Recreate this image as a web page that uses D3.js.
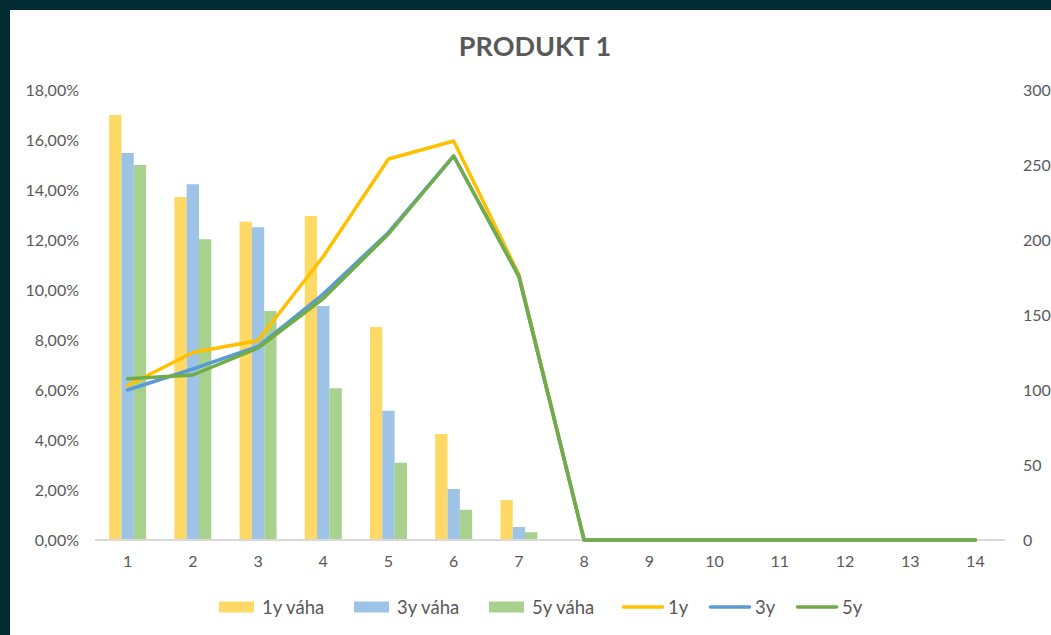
<!DOCTYPE html>
<html>
<head>
<meta charset="utf-8">
<script src="https://cdn.jsdelivr.net/npm/d3@7"></script>
<style>
  body { margin: 0; background: #022b33; }
  svg { display: block; }
  text { font-family: Lato, "Open Sans", sans-serif; fill: #595959; }
</style>
</head>
<body>
<svg id="chart" width="1051" height="635"></svg>
<script>
// categories
var categories = [1, 2, 3, 4, 5, 6, 7, 8, 9, 10, 11, 12, 13, 14]

// bar series (left axis, share)
var vaha1y = [0.170, 0.1372, 0.1273, 0.1296, 0.0852, 0.0424, 0.0160, 0, 0, 0, 0, 0, 0, 0]
var vaha3y = [0.1548, 0.1423, 0.1251, 0.0936, 0.0517, 0.0204, 0.0052, 0, 0, 0, 0, 0, 0, 0]
var vaha5y = [0.1500, 0.1203, 0.0916, 0.0607, 0.0309, 0.0121, 0.0031, 0, 0, 0, 0, 0, 0, 0]

// line series (right axis)
var line1y = [103, 125, 133, 189, 254, 266, 177, 0, 0, 0, 0, 0, 0, 0]
var line3y = [100, 114, 129, 164, 205, 256, 176, 0, 0, 0, 0, 0, 0, 0]
var line5y = [107.5, 110, 128, 161, 204, 256, 175.5, 0, 0, 0, 0, 0, 0, 0]

var leftTicks = [0, 0.02, 0.04, 0.06, 0.08, 0.10, 0.12, 0.14, 0.16, 0.18]
var rightTicks = [0, 50, 100, 150, 200, 250, 300]

var barSeries = [
	{ name: "1y váha", values: vaha1y, color: "#FFD966" },
	{ name: "3y váha", values: vaha3y, color: "#9DC3E6" },
	{ name: "5y váha", values: vaha5y, color: "#A9D18E" }
]
var lineSeries = [
	{ name: "1y", values: line1y, color: "#FFC000" },
	{ name: "3y", values: line3y, color: "#5B9BD5" },
	{ name: "5y", values: line5y, color: "#70AD47" }
]

var svg = d3.select("#chart")

// white chart area inside the dark frame
svg.append("rect")
	.attr("x", 10).attr("y", 10)
	.attr("width", 1041).attr("height", 625)
	.attr("fill", "#ffffff")

var plot = { left: 95, right: 1008, top: 90, bottom: 540 }

var x = d3.scaleBand()
	.domain(categories)
	.range([plot.left, plot.right])
	.paddingInner(0).paddingOuter(0)

var yLeft = d3.scaleLinear().domain([0, 0.18]).range([plot.bottom, plot.top])
var yRight = d3.scaleLinear().domain([0, 300]).range([plot.bottom, plot.top])

var groupW = 37
var xSub = d3.scaleBand()
	.domain(barSeries.map(function(s) { return s.name }))
	.range([0, groupW])

// title
svg.append("text")
	.attr("x", 535).attr("y", 56)
	.attr("text-anchor", "middle")
	.attr("font-size", "27px")
	.attr("font-weight", "bold")
	.text("PRODUKT 1")

function styleTicks(g) {
	g.select(".domain").remove()
	g.selectAll("text")
		.attr("font-size", "16px")
		.attr("fill", "#595959")
		.style("font-family", "Lato, sans-serif")
}

// left axis
var fmtPct = function(d) { return d3.format(".2f")(d * 100).replace(".", ",") + "%" }
svg.append("g")
	.attr("transform", "translate(" + 79 + ",0)")
	.call(d3.axisLeft(yLeft).tickValues(leftTicks).tickFormat(fmtPct).tickSize(0).tickPadding(0))
	.call(styleTicks)

// right axis
svg.append("g")
	.attr("transform", "translate(" + 1023 + ",0)")
	.call(d3.axisRight(yRight).tickValues(rightTicks).tickSize(0).tickPadding(0))
	.call(styleTicks)

// bars
barSeries.forEach(function(s) {
	svg.append("g").selectAll("rect")
		.data(s.values)
		.enter()
		.append("rect")
		.attr("x", function(d, i) { return x(categories[i]) + x.bandwidth() / 2 - groupW / 2 + xSub(s.name) })
		.attr("y", function(d) { return yLeft(d) })
		.attr("width", xSub.bandwidth())
		.attr("height", function(d) { return plot.bottom - yLeft(d) })
		.attr("fill", s.color)
})

// category axis
var bottomAxis = svg.append("g")
	.attr("transform", "translate(0," + plot.bottom + ")")
	.call(d3.axisBottom(x).tickSize(0).tickPadding(16))
bottomAxis.selectAll("text")
	.attr("font-size", "16px")
	.attr("fill", "#595959")
	.style("font-family", "Lato, sans-serif")
bottomAxis.select(".domain")
	.attr("d", "M" + plot.left + ",0H" + (plot.right - 3))
	.attr("stroke", "#d9d9d9")
	.attr("stroke-width", 2)

// lines
var line = d3.line()
	.x(function(d, i) { return x(categories[i]) + x.bandwidth() / 2 })
	.y(function(d) { return yRight(d) })

lineSeries.forEach(function(s) {
	svg.append("path")
		.datum(s.values)
		.attr("d", line)
		.attr("fill", "none")
		.attr("stroke", s.color)
		.attr("stroke-width", 3.5)
		.attr("stroke-linejoin", "round")
		.attr("stroke-linecap", "round")
})

// legend
var legendY = 607
var legendItems = [
	{ s: barSeries[0], x: 219, type: "bar" },
	{ s: barSeries[1], x: 354, type: "bar" },
	{ s: barSeries[2], x: 489, type: "bar" },
	{ s: lineSeries[0], x: 622, type: "line" },
	{ s: lineSeries[1], x: 709, type: "line" },
	{ s: lineSeries[2], x: 796, type: "line" }
]
var legend = svg.append("g")
legendItems.forEach(function(it) {
	if (it.type === "bar") {
		legend.append("rect")
			.attr("x", it.x).attr("y", legendY - 5.5)
			.attr("width", 35).attr("height", 11)
			.attr("fill", it.s.color)
	} else {
		legend.append("line")
			.attr("x1", it.x + 1.5).attr("x2", it.x + 40.5)
			.attr("y1", legendY).attr("y2", legendY)
			.attr("stroke", it.s.color)
			.attr("stroke-width", 3.5)
			.attr("stroke-linecap", "round")
	}
	legend.append("text")
		.attr("x", it.x + (it.type === "bar" ? 43 : 46))
		.attr("y", legendY)
		.attr("dy", "0.36em")
		.attr("font-size", "18.5px")
		.text(it.s.name)
})
</script>
</body>
</html>
